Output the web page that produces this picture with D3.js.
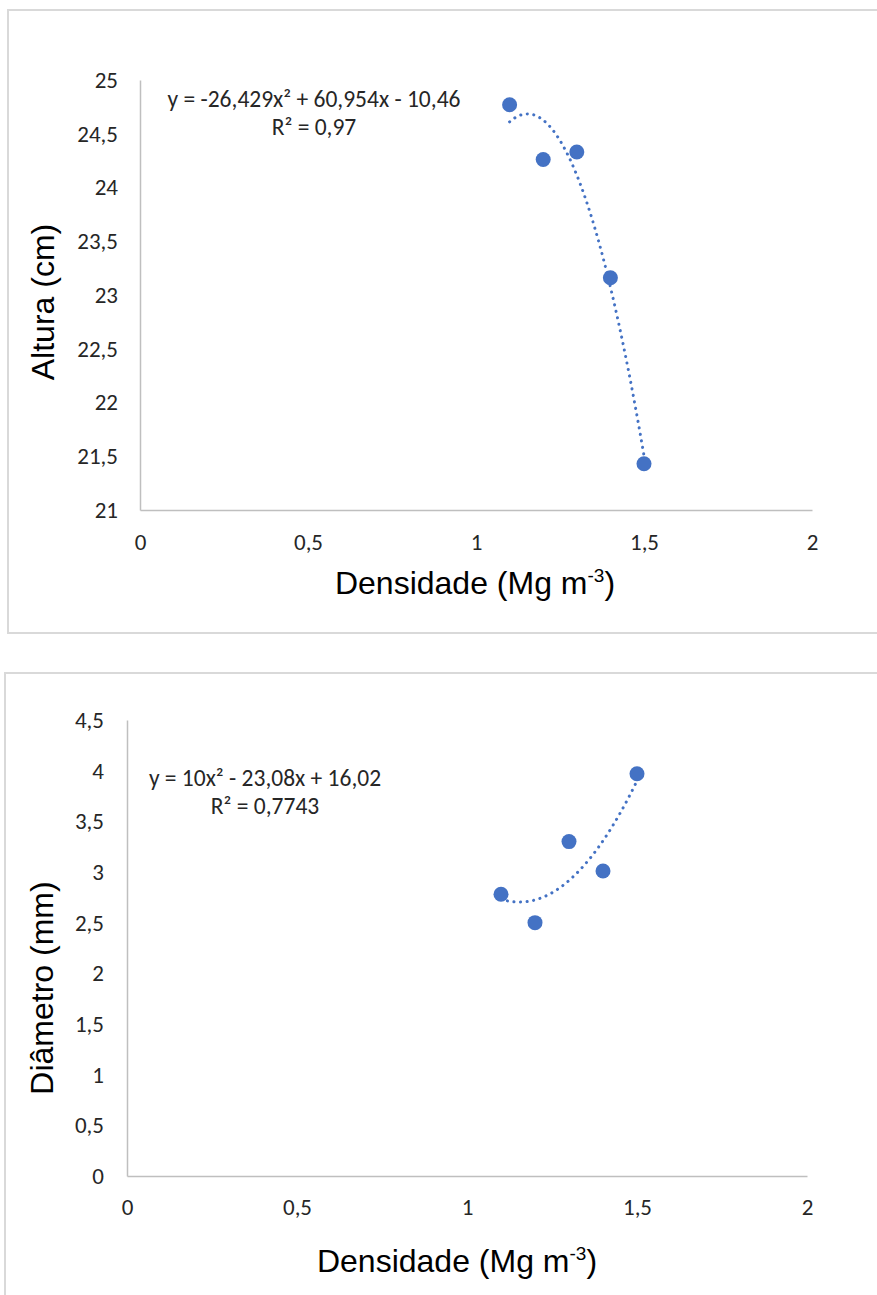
<!DOCTYPE html>
<html>
<head>
<meta charset="utf-8">
<script src="https://cdn.jsdelivr.net/npm/d3@7"></script>
<style>
  body { margin: 0; background: #fff; }
  svg { display: block; }
</style>
</head>
<body>
<svg id="chart" width="877" height="1295"></svg>
<script>
// data
const densidade = [1.1, 1.2, 1.3, 1.4, 1.5];
const altura = [24.77, 24.26, 24.33, 23.16, 21.43];
const diametro = [2.78, 2.50, 3.30, 3.01, 3.97];

const xTicks = [0, 0.5, 1, 1.5, 2];
const alturaTicks = [21, 21.5, 22, 22.5, 23, 23.5, 24, 24.5, 25];
const diametroTicks = [0, 0.5, 1, 1.5, 2, 2.5, 3, 3.5, 4, 4.5];

// trendline coefficients as printed on the chart (a x² + b x + c)
const alturaCoef = [-26.429, 60.954, -10.46];
const diametroCoef = [10, -23.08, 16.02];
const alturaEq = ['y = -26,429x² + 60,954x - 10,46', 'R² = 0,97'];
const diametroEq = ['y = 10x² - 23,08x + 16,02', 'R² = 0,7743'];

const blue = '#4472C4';
const axisGray = '#bfbfbf';
const tickFont = 'Carlito, Calibri, Lato, sans-serif';
const titleFont = '"Liberation Sans", Arial, sans-serif';
const comma = d => String(d).replace('.', ',');

const svg = d3.select('#chart');

function drawPanel(opt) {
  // outer chart frame
  svg.append('rect')
    .attr('x', opt.frame[0]).attr('y', opt.frame[1])
    .attr('width', opt.frame[2]).attr('height', opt.frame[3])
    .attr('fill', 'none').attr('stroke', '#d9d9d9').attr('stroke-width', 2);

  const x = d3.scaleLinear().domain([0, 2]).range(opt.xRange);
  const y = d3.scaleLinear().domain(opt.yDomain).range(opt.yRange);

  const gx = svg.append('g')
    .attr('transform', `translate(0,${opt.yRange[0]})`)
    .call(d3.axisBottom(x).tickValues(xTicks).tickFormat(comma).tickSize(0).tickPadding(opt.xPad));
  const gy = svg.append('g')
    .attr('transform', `translate(${opt.xRange[0]},0)`)
    .call(d3.axisLeft(y).tickValues(opt.yTicks).tickFormat(comma).tickSize(0).tickPadding(opt.yPad));

  [gx, gy].forEach(g => {
    g.select('.domain').attr('stroke', axisGray).attr('stroke-width', 1.5);
    g.selectAll('text').attr('fill', '#262626')
      .style('font-family', tickFont).style('font-size', '23px');
  });

  // trendline
  const a = opt.coef;
  const line = d3.line()
    .x(d => x(d))
    .y(d => y(a[0] * d * d + a[1] * d + a[2]));
  const xs = d3.range(densidade[0], densidade[4] + 0.0001, 0.005);
  svg.append('path')
    .datum(xs)
    .attr('d', line)
    .attr('fill', 'none')
    .attr('stroke', blue)
    .attr('stroke-width', 3)
    .attr('stroke-linecap', 'round')
    .attr('stroke-dasharray', '0.1 6.5');

  // points
  svg.append('g').selectAll('circle')
    .data(densidade.map((d, i) => [d, opt.values[i]]))
    .enter().append('circle')
    .attr('cx', d => x(d[0]))
    .attr('cy', d => y(d[1]))
    .attr('r', 7.5)
    .attr('fill', blue);

  // equation
  const eq = svg.append('text')
    .attr('text-anchor', 'middle')
    .attr('fill', '#262626')
    .style('font-family', tickFont).style('font-size', '23.5px');
  opt.eq.forEach((t, i) => {
    eq.append('tspan').attr('x', opt.eqPos[0]).attr('y', opt.eqPos[1] + i * 28).text(t);
  });

  // axis titles
  const xt = svg.append('text')
    .attr('x', opt.xTitle[0]).attr('y', opt.xTitle[1])
    .attr('text-anchor', 'middle')
    .attr('fill', '#000')
    .style('font-family', titleFont).style('font-size', '32px');
  xt.append('tspan').text('Densidade (Mg m');
  xt.append('tspan').attr('dy', -12).style('font-size', '19px').text('-3');
  xt.append('tspan').attr('dy', 12).text(')');

  svg.append('text')
    .attr('transform', `translate(${opt.yTitle[0]},${opt.yTitle[1]}) rotate(-90)`)
    .attr('text-anchor', 'middle')
    .attr('fill', '#000')
    .style('font-family', titleFont).style('font-size', '32px')
    .text(opt.yLabel);
}

drawPanel({
  frame: [8, 10, 900, 623],
  xRange: [140, 812],
  yDomain: [21, 25], yRange: [510, 80],
  yTicks: alturaTicks,
  values: altura,
  coef: alturaCoef,
  eq: alturaEq, eqPos: [314, 107],
  xPad: 24, yPad: 22,
  xTitle: [475, 594],
  yTitle: [54, 302],
  yLabel: 'Altura (cm)'
});

drawPanel({
  frame: [5, 673, 900, 700],
  xRange: [127, 807],
  yDomain: [0, 4.5], yRange: [1176, 720],
  yTicks: diametroTicks,
  values: diametro,
  coef: diametroCoef,
  eq: diametroEq, eqPos: [265, 786],
  xPad: 23, yPad: 23,
  xTitle: [457, 1272],
  yTitle: [53, 988],
  yLabel: 'Diâmetro (mm)'
});
</script>
</body>
</html>
